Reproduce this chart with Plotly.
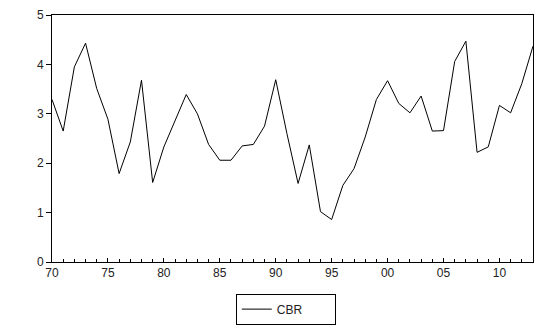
import plotly.graph_objects as go

years = list(range(1970, 2014))
cbr = [3.29, 2.65, 3.95, 4.43, 3.51, 2.89, 1.79, 2.43, 3.68, 1.61,
       2.33, 2.87, 3.39, 3.00, 2.38, 2.06, 2.06, 2.35, 2.38, 2.75,
       3.69, 2.60, 1.59, 2.37, 1.02, 0.86, 1.55, 1.89, 2.53, 3.29,
       3.67, 3.21, 3.02, 3.36, 2.65, 2.66, 4.06, 4.47, 2.22, 2.33,
       3.17, 3.02, 3.61, 4.37]
xtick_vals = [1970, 1975, 1980, 1985, 1990, 1995, 2000, 2005, 2010]
xtick_text = ["70", "75", "80", "85", "90", "95", "00", "05", "10"]
ytick_vals = [0, 1, 2, 3, 4, 5]

fig = go.Figure()
fig.add_trace(go.Scatter(x=years, y=cbr, mode="lines", name="CBR",
                         line=dict(color="black", width=1)))

fig.update_layout(
    width=534, height=325,
    margin=dict(l=52, r=1, t=15, b=63, autoexpand=False),
    paper_bgcolor="white", plot_bgcolor="white",
    font=dict(family="Liberation Sans, Arial", size=12, color="#222"),
    showlegend=True,
    legend=dict(orientation="h", x=0.486, xanchor="center", y=-0.128, yanchor="top",
                bordercolor="black", borderwidth=1, font=dict(size=12, color="#222"),
                itemwidth=30, entrywidth=53),
    xaxis=dict(range=[1970, 2013], tickvals=xtick_vals, ticktext=xtick_text,
               showgrid=False, zeroline=False, showline=True, linecolor="black",
               linewidth=1, mirror=True, ticks="inside", ticklen=4, tickcolor="black",
               minor=dict(dtick=1, ticks="inside", ticklen=3, tickcolor="black", showgrid=False)),
    yaxis=dict(range=[0, 5], tickvals=ytick_vals, showgrid=False, zeroline=False,
               showline=True, linecolor="black", linewidth=1, mirror=True,
               ticks="outside", ticklen=5, tickcolor="black"),
)

fig.write_html("out.html")
